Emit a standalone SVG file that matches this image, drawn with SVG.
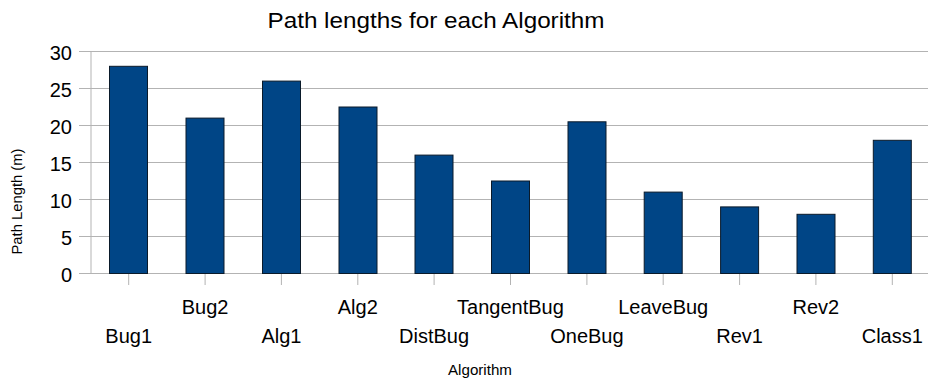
<svg xmlns="http://www.w3.org/2000/svg" width="928" height="382" viewBox="0 0 928 382">
<style>
text{font-family:"Liberation Sans",Arial,sans-serif;fill:#000}
.grid{stroke:#b3b3b3;stroke-width:1;fill:none}
.bar{fill:#004586;stroke:#0a1a2a;stroke-width:1}
.yl{font-size:20px;text-anchor:end}
.xl{font-size:20px;text-anchor:middle}
</style>
<rect width="928" height="382" fill="#fff"/>
<text x="436" y="28" font-size="22" text-anchor="middle" textLength="337" lengthAdjust="spacingAndGlyphs">Path lengths for each Algorithm</text>
<g id="grid" class="grid">
<path d="M79 51.5H928M79 88.5H928M79 125.5H928M79 162.5H928M79 199.5H928M79 236.5H928M79 273.5H928"/>
<path d="M91 51.5V273.5"/>
<path d="M128.7 273.5V285M205.1 273.5V285M281.4 273.5V285M357.8 273.5V285M434.1 273.5V285M510.5 273.5V285M586.9 273.5V285M663.2 273.5V285M739.6 273.5V285M815.9 273.5V285M892.3 273.5V285"/>
</g>
<g id="yaxis-labels">
<text class="yl" x="72" y="60">30</text>
<text class="yl" x="72" y="97">25</text>
<text class="yl" x="72" y="134">20</text>
<text class="yl" x="72" y="171">15</text>
<text class="yl" x="72" y="208">10</text>
<text class="yl" x="72" y="245">5</text>
<text class="yl" x="72" y="282">0</text>
</g>
<text x="22" y="201.5" font-size="14" text-anchor="middle" transform="rotate(-90 22 201.5)" textLength="106" lengthAdjust="spacingAndGlyphs">Path Length (m)</text>
<g id="bars">
<g id="bar-bug1"><rect class="bar" x="109.5" y="66.3" width="38" height="207.2"/></g>
<g id="bar-bug2"><rect class="bar" x="186" y="118.1" width="38" height="155.4"/></g>
<g id="bar-alg1"><rect class="bar" x="262.5" y="81.1" width="38" height="192.4"/></g>
<g id="bar-alg2"><rect class="bar" x="339" y="107" width="38" height="166.5"/></g>
<g id="bar-distbug"><rect class="bar" x="415" y="155.1" width="38" height="118.4"/></g>
<g id="bar-tangentbug"><rect class="bar" x="491.5" y="181" width="38" height="92.5"/></g>
<g id="bar-onebug"><rect class="bar" x="568" y="121.8" width="38" height="151.7"/></g>
<g id="bar-leavebug"><rect class="bar" x="644.2" y="192.1" width="38" height="81.4"/></g>
<g id="bar-rev1"><rect class="bar" x="720.6" y="206.9" width="38" height="66.6"/></g>
<g id="bar-rev2"><rect class="bar" x="797" y="214.3" width="38" height="59.2"/></g>
<g id="bar-class1"><rect class="bar" x="873.3" y="140.3" width="38" height="133.2"/></g>
</g>
<g id="xaxis-labels">
<text class="xl" x="128.7" y="343">Bug1</text>
<text class="xl" x="205.1" y="314">Bug2</text>
<text class="xl" x="281.4" y="343">Alg1</text>
<text class="xl" x="357.8" y="314">Alg2</text>
<text class="xl" x="434.1" y="343">DistBug</text>
<text class="xl" x="510.5" y="314">TangentBug</text>
<text class="xl" x="586.9" y="343">OneBug</text>
<text class="xl" x="663.2" y="314">LeaveBug</text>
<text class="xl" x="739.6" y="343">Rev1</text>
<text class="xl" x="815.9" y="314">Rev2</text>
<text class="xl" x="892.3" y="343">Class1</text>
</g>
<text x="480" y="375" font-size="14" text-anchor="middle" textLength="64" lengthAdjust="spacingAndGlyphs">Algorithm</text>
</svg>
